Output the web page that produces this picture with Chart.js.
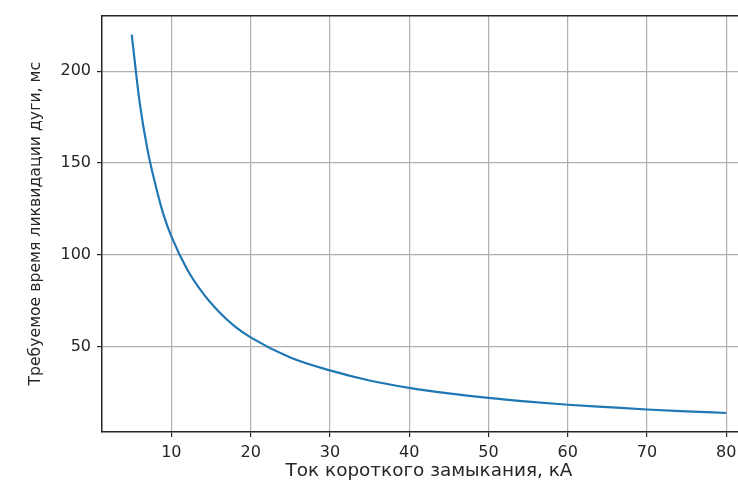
<!DOCTYPE html>
<html>
<head>
<meta charset="utf-8">
<script src="https://cdn.jsdelivr.net/npm/chart.js@4"></script>
<style>
  html, body { margin: 0; padding: 0; background: #fff; overflow: hidden; width: 738px; height: 482px; }
  #wrap { width: 756px; height: 482px; }
</style>
</head>
<body>
<div id="wrap"><canvas id="arcChart"></canvas></div>
<script>
// ток КЗ, кА
const currentKA = [5, 6, 7, 8, 9, 10, 12, 14, 16, 18, 20, 25, 30, 35, 40, 45, 50, 55, 60, 65, 70, 75, 80];
// время ликвидации дуги, мс
const clearTimeMs = [220, 183, 157, 138, 122, 110, 92, 79, 69, 61, 55, 44, 37, 31.5, 27.5, 24.5, 22, 20, 18.3, 17, 15.7, 14.7, 13.8];
const xTicks = [10, 20, 30, 40, 50, 60, 70, 80];
const yTicks = [50, 100, 150, 200];

const txt = '#262626';
const gridCol = '#b0b0b0';
const spine = '#262626';

let arcChart = new Chart(document.getElementById('arcChart'), {
    type: 'line',
    data: {
        datasets: [
            {
                data: currentKA.map((x, i) => ({ x: x, y: clearTimeMs[i] })),
                borderColor: '#1f77b4',
                borderWidth: 2.2,
                pointRadius: 0,
                cubicInterpolationMode: 'monotone',
                fill: false
            }
        ]
    },
    options: {
        responsive: true,
        maintainAspectRatio: false,
        animation: false,
        layout: { padding: 0 },
        plugins: {
            legend: { display: false },
            tooltip: { enabled: false }
        },
        scales: {
            x: {
                type: 'linear',
                position: 'bottom',
                min: 1.25,
                max: 83.75,
                afterBuildTicks: axis => { axis.ticks = xTicks.map(v => ({ value: v })); },
                afterFit: axis => { axis.height = 50; },
                ticks: { color: txt, font: { family: 'DejaVu Sans', size: 16 }, padding: 6, maxRotation: 0 },
                grid: { color: gridCol, lineWidth: 1.2, tickColor: spine, tickLength: 5, tickWidth: 1.2 },
                border: { color: spine, width: 1.5 },
                title: {
                    display: true,
                    text: 'Ток короткого замыкания, кА',
                    color: txt,
                    font: { family: 'DejaVu Sans', size: 18.4 },
                    padding: { top: 0, bottom: 0 }
                }
            },
            top: {
                type: 'linear',
                position: 'top',
                min: 1.25,
                max: 83.75,
                afterFit: axis => { axis.height = 13; },
                ticks: { display: false },
                grid: { display: false, drawTicks: false },
                border: { color: spine, width: 1.5 }
            },
            y: {
                type: 'linear',
                min: 3.44,
                max: 230.3,
                afterBuildTicks: axis => { axis.ticks = yTicks.map(v => ({ value: v })); },
                afterFit: axis => { axis.width = 102; },
                ticks: { color: txt, font: { family: 'DejaVu Sans', size: 16 }, padding: 6 },
                grid: { color: gridCol, lineWidth: 1.2, tickColor: spine, tickLength: 5, tickWidth: 1.2 },
                border: { color: spine, width: 1.5 },
                title: {
                    display: true,
                    text: 'Требуемое время ликвидации дуги, мс',
                    color: txt,
                    font: { family: 'DejaVu Sans', size: 15.7 },
                    padding: { top: 26.5, bottom: 0 }
                }
            }
        }
    }
});
</script>
</body>
</html>
